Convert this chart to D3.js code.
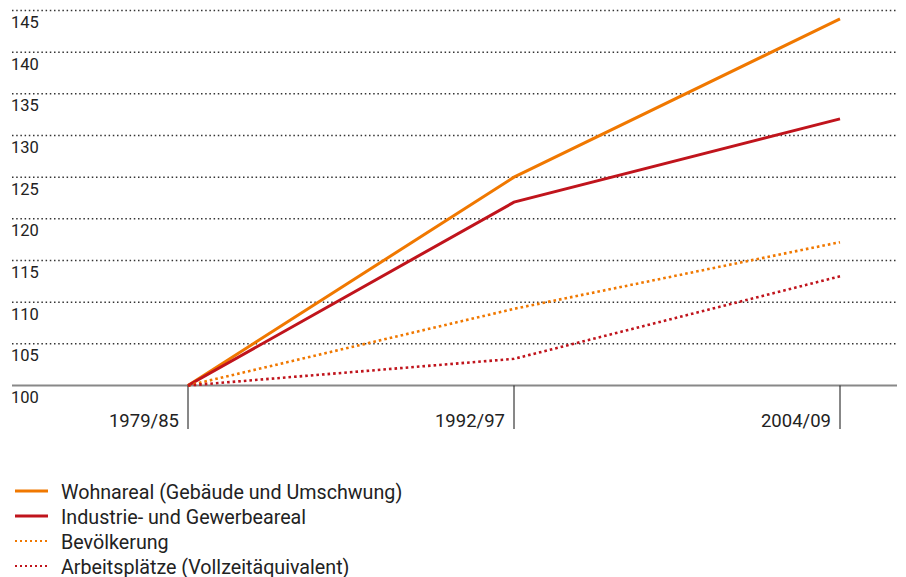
<!DOCTYPE html>
<html>
<head>
<meta charset="utf-8">
<script src="https://cdn.jsdelivr.net/npm/d3@7"></script>
<style>
  body { margin: 0; background: #fff; }
  svg { font-family: Roboto, "DejaVu Sans", sans-serif; }
</style>
</head>
<body>
<div id="chart"></div>
<script>
// periods and index values (1979/85 = 100)
const periods = ["1979/85", "1992/97", "2004/09"];
const wohnareal = [100, 125, 144];
const industrie = [100, 122, 132];
const bevoelkerung = [100, 109.2, 117.2];
const arbeitsplaetze = [100, 103.2, 113.1];
const yTicks = [100, 105, 110, 115, 120, 125, 130, 135, 140, 145];

const seriesNames = [
    "Wohnareal (Gebäude und Umschwung)",
    "Industrie- und Gewerbeareal",
    "Bevölkerung",
    "Arbeitsplätze (Vollzeitäquivalent)"
];

const orange = "#f07800", red = "#c0141c";
const series = [
    { name: seriesNames[0], values: wohnareal, color: orange, dotted: false },
    { name: seriesNames[1], values: industrie, color: red, dotted: false },
    { name: seriesNames[2], values: bevoelkerung, color: orange, dotted: true },
    { name: seriesNames[3], values: arbeitsplaetze, color: red, dotted: true }
];

const width = 906, height = 577;
const svg = d3.select("#chart").append("svg")
    .attr("width", width)
    .attr("height", height);

const x = d3.scalePoint()
    .domain(periods)
    .range([188, 840]);

const y = d3.scaleLinear()
    .domain([100, 145])
    .range([385.5, 10.5]);

// Grid lines + labels
const grid = svg.append("g");
grid.selectAll("line")
    .data(yTicks.filter(d => d !== 100))
    .enter()
    .append("line")
    .attr("x1", 12)
    .attr("x2", 897)
    .attr("y1", d => y(d))
    .attr("y2", d => y(d))
    .attr("stroke", "#333")
    .attr("stroke-width", 1.5)
    .attr("stroke-dasharray", "1.5,2.7");

grid.selectAll("text")
    .data(yTicks)
    .enter()
    .append("text")
    .attr("x", 11)
    .attr("y", d => y(d) + 17.5)
    .attr("font-size", "16.5px")
    .attr("fill", "#222")
    .text(d => d);

// baseline
svg.append("line")
    .attr("x1", 12)
    .attr("x2", 897)
    .attr("y1", y(100))
    .attr("y2", y(100))
    .attr("stroke", "#888")
    .attr("stroke-width", 2);

// X ticks
const xAxis = svg.append("g");
xAxis.selectAll("line")
    .data(periods)
    .enter()
    .append("line")
    .attr("x1", d => x(d))
    .attr("x2", d => x(d))
    .attr("y1", y(100))
    .attr("y2", 429)
    .attr("stroke", "#111")
    .attr("stroke-width", 1);

xAxis.selectAll("text")
    .data(periods)
    .enter()
    .append("text")
    .attr("x", d => x(d) - 9)
    .attr("y", 427)
    .attr("text-anchor", "end")
    .attr("font-size", "18.5px")
    .attr("fill", "#222")
    .text(d => d);

// Lines
const line = d3.line()
    .x((d, i) => x(periods[i]))
    .y(d => y(d));

svg.selectAll("path.series")
    .data(series)
    .enter()
    .append("path")
    .attr("class", "series")
    .attr("fill", "none")
    .attr("stroke", d => d.color)
    .attr("stroke-width", d => d.dotted ? 2.6 : 3)
    .attr("stroke-dasharray", d => d.dotted ? "2.6,3" : null)
    .attr("d", d => line(d.values));

// Legend
const legend = svg.append("g");
const rows = legend.selectAll("g")
    .data(series)
    .enter()
    .append("g")
    .attr("transform", (d, i) => `translate(0, ${491 + i * 25})`);

rows.append("line")
    .attr("x1", 15)
    .attr("x2", 48)
    .attr("stroke", d => d.color)
    .attr("stroke-width", d => d.dotted ? 2 : 3)
    .attr("stroke-dasharray", d => d.dotted ? "2,3" : null);

rows.append("text")
    .attr("x", 61)
    .attr("y", 7.5)
    .attr("font-size", "19.7px")
    .attr("fill", "#222")
    .text(d => d.name);
</script>
</body>
</html>
